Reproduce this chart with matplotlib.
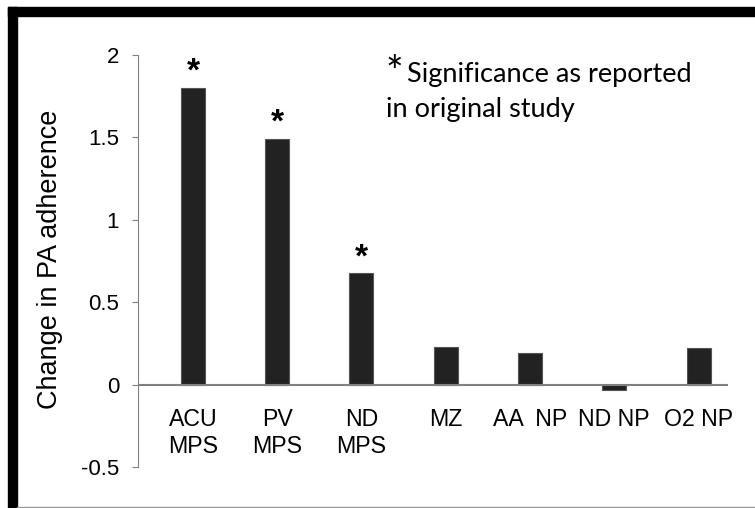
import matplotlib
matplotlib.use('Agg')
import matplotlib.pyplot as plt
from matplotlib.patches import Rectangle
import numpy as np

#--------------------------------------------------------------
# Data
categories = ['ACU\nMPS', 'PV\nMPS', 'ND\nMPS', 'MZ', 'AA  NP', 'ND NP', 'O2 NP']
change     = [1.80, 1.49, 0.675, 0.23, 0.19, -0.03, 0.22]
signif     = [True, True, True, False, False, False, False]
yticks     = [-0.5, 0, 0.5, 1, 1.5, 2]
ytick_lbls = ['-0.5', '0', '0.5', '1', '1.5', '2']

#--------------------------------------------------------------
W, H = 755, 508
fig = plt.figure(figsize=(W/100, H/100), dpi=100)
plt.rcParams['font.family'] = ['Liberation Sans', 'DejaVu Sans']

# axes placed in pixel units (y-axis at x=138, y=2 at 55 px, y=-0.5 at 467 px)
left, right, top, bottom = 138, 728, 55, 467
ax = fig.add_axes([left/W, 1-bottom/H, (right-left)/W, (bottom-top)/H])

x = np.arange(len(categories))
ax.bar(x, change, width=0.285, color='#222222', edgecolor='#555555', linewidth=0.8, zorder=2)
ax.axhline(0, color='#808080', lw=1.5, zorder=3)

# significance stars above bars
for i, (v, s) in enumerate(zip(change, signif)):
    if s:
        ax.annotate('*', xy=(i, v), xytext=(0, 0), textcoords='offset points',
                    ha='center', va='bottom', fontsize=24, fontweight='bold', color='black')

ax.set_xlim(-0.652, 6.35)
ax.set_ylim(-0.5, 2)
ax.set_yticks(yticks)
ax.set_yticklabels(ytick_lbls, fontsize=16)
ax.tick_params(axis='y', direction='out', length=4.5, width=0.8, color='#808080', pad=9)

ax.set_xticks([])
for i, c in enumerate(categories):
    ax.text(i, -0.14, c, ha='center', va='top', fontsize=16.7, linespacing=1.25)

for sp in ['top', 'right', 'bottom']:
    ax.spines[sp].set_visible(False)
ax.spines['left'].set_color('#808080')
ax.spines['left'].set_linewidth(0.8)

ax.set_ylabel('Change in PA adherence', fontsize=19.5)
ax.yaxis.set_label_coords(-0.127, 0.505)

# legend note
fig.text(385/W, 1-86/H, '*', fontsize=30, ha='left', va='baseline', family=['Lato', 'DejaVu Sans'])
fig.text(407/W, 1-82/H, 'Significance as reported', fontsize=19.5, family=['Lato', 'DejaVu Sans'], va='baseline')
fig.text(386/W, 1-117/H, 'in original study', fontsize=19.5, family=['Lato', 'DejaVu Sans'], va='baseline')

# frame around the picture
fig.patches.append(Rectangle((8/W, 1-508/H), 9/W, (508-7)/H, transform=fig.transFigure,
                             color='black', zorder=10))
fig.patches.append(Rectangle((8/W, 1-16/H), 1-8/W, 9/H, transform=fig.transFigure,
                             color='black', zorder=10))
fig.patches.append(Rectangle((17/W, 0), 1, 1.5/H, transform=fig.transFigure,
                             color='#999999', zorder=10))

fig.savefig('out.png', dpi=100)
